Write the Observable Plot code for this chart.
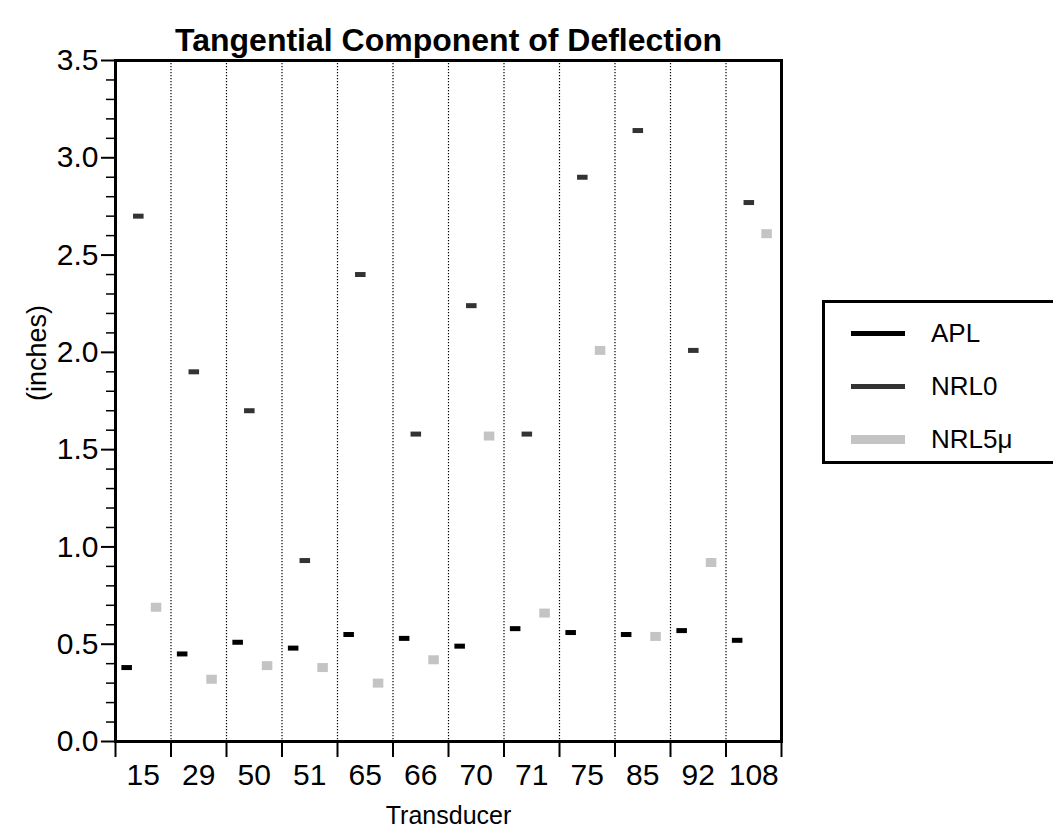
<!DOCTYPE html>
<html>
<head>
<meta charset="utf-8">
<script src="https://cdn.jsdelivr.net/npm/d3@7"></script>
<script src="https://cdn.jsdelivr.net/npm/@observablehq/plot@0.6"></script>
<style>
  body { margin: 0; background: #fff; font-family: "Liberation Sans", Arial, Helvetica, sans-serif; }
  #wrap { position: relative; width: 1053px; height: 833px; overflow: hidden; background: #fff; }
  #legend { position: absolute; left: 822px; top: 300px; width: 260px; height: 164px; border: 3px solid #000; box-sizing: border-box; }
  .sw { position: absolute; left: 26px; width: 54px; }
  .lt { position: absolute; left: 106px; font-size: 26px; line-height: 30px; color: #000; }
</style>
</head>
<body>
<div id="wrap">
  <div id="chart"></div>
  <div id="legend"></div>
</div>
<script>
// ---- data ----
const transducers = ["15","29","50","51","65","66","70","71","75","85","92","108"];
const apl   = [0.38, 0.45, 0.51, 0.48, 0.55, 0.53, 0.49, 0.58, 0.56, 0.55, 0.57, 0.52];
const nrl0  = [2.70, 1.90, 1.70, 0.93, 2.40, 1.58, 2.24, 1.58, 2.90, 3.14, 2.01, 2.77];
const nrl5u = [0.69, 0.32, 0.39, 0.38, 0.30, 0.42, 1.57, 0.66, 2.01, 0.54, 0.92, 2.61];
const seriesNames = ["APL", "NRL0", "NRL5\u03bc"];
const yTickValues = [0, 0.5, 1.0, 1.5, 2.0, 2.5, 3.0, 3.5];
const titleText = "Tangential Component of Deflection";
const xTitle = "Transducer";
const yTitle = "(inches)";

// ---- styling ----
const style = {
  "APL":      {offset: 0.21, color: "#000000", width: 5},
  "NRL0":     {offset: 0.42, color: "#333333", width: 5},
  "NRL5\u03bc": {offset: 0.74, color: "#c4c4c4", width: 9}
};
const halfW = 0.095;

const valuesBySeries = [apl, nrl0, nrl5u];
const rows = transducers.flatMap((t, i) =>
  seriesNames.map((s, k) => ({i, transducer: t, series: s, value: valuesBySeries[k][i]})));

const minorTicks = d3.range(0, 36).map(v => v / 10).filter(v => Math.round(v * 10) % 5 !== 0);
const boundaries = d3.range(0, transducers.length + 1);
const centers = transducers.map((t, i) => i + 0.5);

const font = "Liberation Sans, Arial, Helvetica, sans-serif";

const seriesMarks = seriesNames.map(s => Plot.ruleY(rows.filter(d => d.series === s), {
  y: "value",
  x1: d => d.i + style[s].offset - halfW,
  x2: d => d.i + style[s].offset + halfW,
  stroke: style[s].color,
  strokeWidth: style[s].width
}));

const chart = Plot.plot({
  width: 1053,
  height: 833,
  marginLeft: 115,
  marginRight: 272,
  marginTop: 60,
  marginBottom: 92,
  style: {fontFamily: font, background: "#fff", color: "#000"},
  x: {domain: [0, transducers.length]},
  y: {domain: [0, 3.5]},
  marks: [
    Plot.ruleX(boundaries.slice(1, -1), {stroke: "#000", strokeWidth: 1.2, strokeDasharray: "1.2,1.8"}),
    Plot.axisY({ticks: minorTicks, tickSize: 9, tickFormat: () => "", label: null, strokeWidth: 1.5}),
    Plot.axisY({ticks: yTickValues, tickSize: 14, tickPadding: 3, tickFormat: d3.format(".1f"), label: null, fontSize: 30, strokeWidth: 2}),
    Plot.axisX({ticks: boundaries, tickSize: 16, tickFormat: () => "", label: null, strokeWidth: 2}),
    Plot.axisX({ticks: centers, tickSize: 0, tickPadding: 22, tickFormat: v => transducers[Math.floor(v)], label: null, fontSize: 30}),
    ...seriesMarks,
    Plot.frame({stroke: "#000", strokeWidth: 3}),
    Plot.text([titleText], {text: d => d, frameAnchor: "top", dy: -32, fontSize: 32, fontWeight: "bold"}),
    Plot.text([xTitle], {text: d => d, frameAnchor: "bottom", dy: 74, fontSize: 25, lineAnchor: "middle"}),
    Plot.text([yTitle], {text: d => d, frameAnchor: "left", dx: -78, rotate: -90, fontSize: 27, lineAnchor: "middle"})
  ]
});
document.getElementById("chart").appendChild(chart);

// ---- legend ----
const legend = document.getElementById("legend");
seriesNames.forEach((s, k) => {
  const cy = 30 + k * 53;
  const sw = document.createElement("div");
  sw.className = "sw";
  sw.style.top = (cy - style[s].width / 2) + "px";
  sw.style.height = style[s].width + "px";
  sw.style.background = style[s].color;
  legend.appendChild(sw);
  const t = document.createElement("div");
  t.className = "lt";
  t.style.top = (cy - 15) + "px";
  t.textContent = s;
  legend.appendChild(t);
});
</script>
</body>
</html>
